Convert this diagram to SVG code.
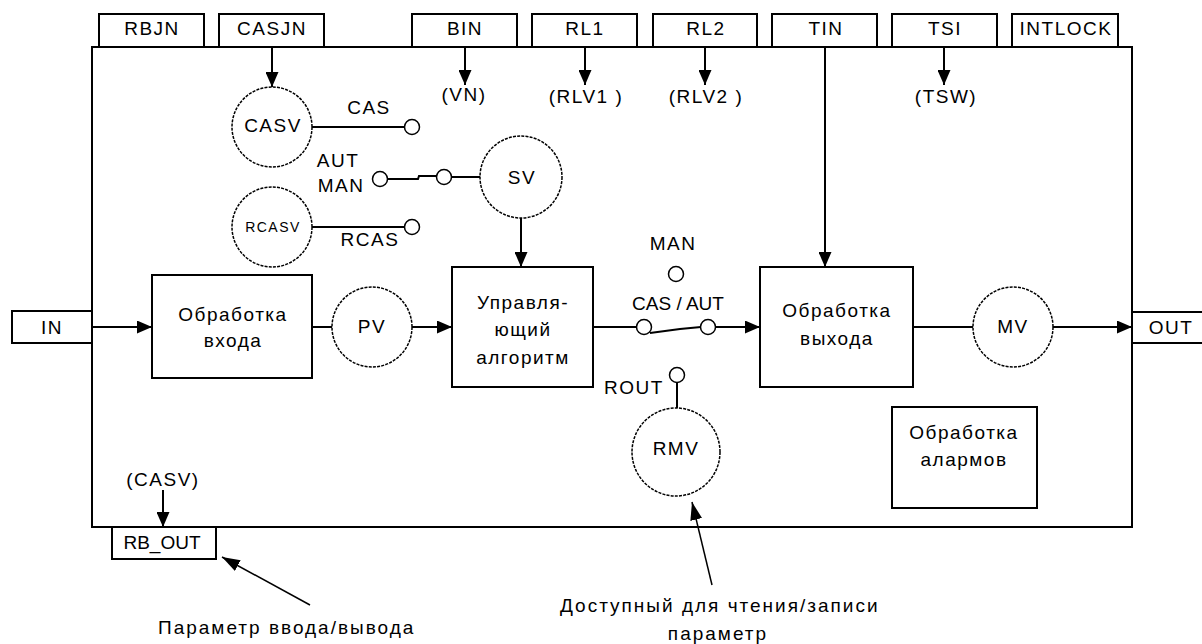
<svg xmlns="http://www.w3.org/2000/svg" width="1202" height="644" viewBox="0 0 1202 644">
<style>
text{font-family:"Liberation Sans",Arial,sans-serif;font-size:19px;fill:#000;text-anchor:middle;letter-spacing:1.5px}
.tight{letter-spacing:0}
.wide{letter-spacing:2px}
.start{text-anchor:start}
.box{fill:#fff;stroke:#000;stroke-width:2}
.frame{fill:none;stroke:#000;stroke-width:2}
.circ{fill:#fff;stroke:#000;stroke-width:1.5;stroke-dasharray:3 1.2}
.sw{fill:#fff;stroke:#000;stroke-width:1.5}
.ln{fill:none;stroke:#000;stroke-width:2}
.thin{fill:none;stroke:#000;stroke-width:1.5}
.arr{marker-end:url(#ah)}
.arr2{marker-end:url(#ah2)}
.sm{font-size:14px}
</style>
<defs>
<marker id="ah" viewBox="0 0 15 13" refX="15" refY="6.5" markerWidth="15" markerHeight="13" markerUnits="userSpaceOnUse" orient="auto">
<path d="M0,0 L15,6.5 L0,13 z" fill="#000"/>
</marker>
<marker id="ah2" viewBox="0 0 18 12" refX="18" refY="6" markerWidth="18" markerHeight="12" markerUnits="userSpaceOnUse" orient="auto">
<path d="M0,0 L18,6 L0,12 z" fill="#000"/>
</marker>
</defs>

<g id="frame"><rect class="frame" x="92" y="47" width="1040" height="480"/></g>

<g id="tab-rbjn"><rect class="box" x="99" y="14" width="105" height="33"/><text x="152" y="35">RBJN</text></g>
<g id="tab-casjn"><rect class="box" x="219" y="14" width="105" height="33"/><text x="272" y="35">CASJN</text></g>
<g id="tab-bin"><rect class="box" x="412" y="14" width="105" height="33"/><text x="465" y="35">BIN</text></g>
<g id="tab-rl1"><rect class="box" x="532" y="14" width="105" height="33"/><text x="585" y="35">RL1</text></g>
<g id="tab-rl2"><rect class="box" x="653" y="14" width="104" height="33"/><text x="706" y="35">RL2</text></g>
<g id="tab-tin"><rect class="box" x="772" y="14" width="105" height="33"/><text x="826" y="35">TIN</text></g>
<g id="tab-tsi"><rect class="box" x="892" y="14" width="105" height="33"/><text x="945" y="35">TSI</text></g>
<g id="tab-intlock"><rect class="box" x="1012" y="14" width="106" height="33"/><text x="1066" y="35">INTLOCK</text></g>
<g id="tab-in"><rect class="box" x="12" y="311" width="80" height="32"/><text x="52" y="334">IN</text></g>
<g id="tab-out"><rect class="box" x="1132" y="312" width="72" height="31"/><text x="1171" y="334">OUT</text></g>
<g id="tab-rbout"><rect class="box" x="112" y="527" width="104" height="32"/><text class="tight" x="162" y="549">RB_OUT</text></g>

<g id="connectors">
<line class="ln arr" x1="272" y1="47" x2="272" y2="87"/>
<line class="ln arr" x1="465" y1="47" x2="465" y2="85"/>
<line class="ln arr" x1="585" y1="47" x2="585" y2="85"/>
<line class="ln arr" x1="705" y1="47" x2="705" y2="85"/>
<line class="ln arr" x1="944" y1="47" x2="944" y2="85"/>
<line class="ln arr" x1="825" y1="47" x2="825" y2="267"/>
<line class="ln" x1="312" y1="127" x2="405" y2="127"/>
<line class="ln" x1="312" y1="227" x2="405" y2="227"/>
<polyline class="ln" points="388,179 418,179 419,176 437,176"/>
<line class="ln" x1="451" y1="177" x2="480" y2="177"/>
<line class="ln arr" x1="521" y1="218" x2="521" y2="267"/>
<line class="ln arr" x1="92" y1="327" x2="152" y2="327"/>
<line class="ln" x1="312" y1="327" x2="332" y2="327"/>
<line class="ln arr" x1="412" y1="327" x2="452" y2="327"/>
<line class="ln" x1="593" y1="327" x2="636" y2="327"/>
<polyline class="ln" points="650,333 680,329 701,327"/>
<line class="ln arr" x1="716" y1="327" x2="760" y2="327"/>
<line class="ln" x1="913" y1="327" x2="973" y2="327"/>
<line class="ln arr" x1="1053" y1="327" x2="1132" y2="327"/>
<line class="ln" x1="677" y1="383" x2="677" y2="408"/>
<line class="ln arr" x1="163" y1="490" x2="163" y2="527"/>
<line class="thin arr2" x1="310" y1="605" x2="222" y2="557"/>
<line class="thin arr2" x1="712" y1="585" x2="692" y2="502"/>
</g>

<g id="casv"><circle class="circ" cx="272" cy="127" r="40"/><text x="273" y="132">CASV</text></g>
<g id="rcasv"><circle class="circ" cx="272" cy="227" r="40"/><text class="sm" x="273" y="232">RCASV</text></g>
<g id="sv"><circle class="circ" cx="521" cy="177" r="41"/><text x="522" y="184">SV</text></g>
<g id="pv"><circle class="circ" cx="372" cy="327" r="40"/><text x="372" y="333">PV</text></g>
<g id="mv"><circle class="circ" cx="1013" cy="327" r="40"/><text x="1013" y="333">MV</text></g>
<g id="rmv"><circle class="circ" cx="676" cy="452" r="44"/><text x="676" y="455">RMV</text></g>

<g id="sw-cas"><circle class="sw" cx="412" cy="127" r="7.5"/><text x="369" y="114">CAS</text></g>
<g id="sw-rcas"><circle class="sw" cx="412" cy="227" r="7.5"/><text x="370" y="246">RCAS</text></g>
<g id="sw-autman"><circle class="sw" cx="380" cy="179" r="7.5"/><circle class="sw" cx="444" cy="177" r="7.5"/><text x="338" y="167">AUT</text><text x="341" y="192">MAN</text></g>
<g id="sw-man"><circle class="sw" cx="676" cy="274" r="7.5"/><text x="673" y="250">MAN</text></g>
<g id="sw-casaut"><circle class="sw" cx="644" cy="327" r="7.5"/><circle class="sw" cx="708" cy="327" r="7.5"/><text class="tight" x="678" y="310">CAS / AUT</text></g>
<g id="sw-rout"><circle class="sw" cx="677" cy="375" r="7.5"/><text x="634" y="394">ROUT</text></g>

<g id="input-proc"><rect class="box" x="152" y="275" width="160" height="103"/><text x="233" y="321">Обработка</text><text x="233" y="347">входа</text></g>
<g id="control-alg"><rect class="box" x="452" y="267" width="141" height="120"/><text x="523" y="309">Управля-</text><text x="523" y="336">ющий</text><text x="523" y="364">алгоритм</text></g>
<g id="output-proc"><rect class="box" x="760" y="267" width="153" height="120"/><text x="837" y="317">Обработка</text><text x="837" y="345">выхода</text></g>
<g id="alarm-proc"><rect class="box" x="892" y="407" width="145" height="101"/><text x="964" y="439">Обработка</text><text x="964" y="466">алармов</text></g>

<g id="labels">
<text x="464" y="101">(VN)</text>
<text x="586" y="103">(RLV1 )</text>
<text x="706" y="103">(RLV2 )</text>
<text x="946" y="103">(TSW)</text>
<text x="163" y="486">(CASV)</text>
<text class="wide start" x="158" y="634">Параметр ввода/вывода</text>
<text class="wide start" x="560" y="612">Доступный для чтения/записи</text>
<text class="wide" x="718" y="640">параметр</text>
</g>
</svg>
